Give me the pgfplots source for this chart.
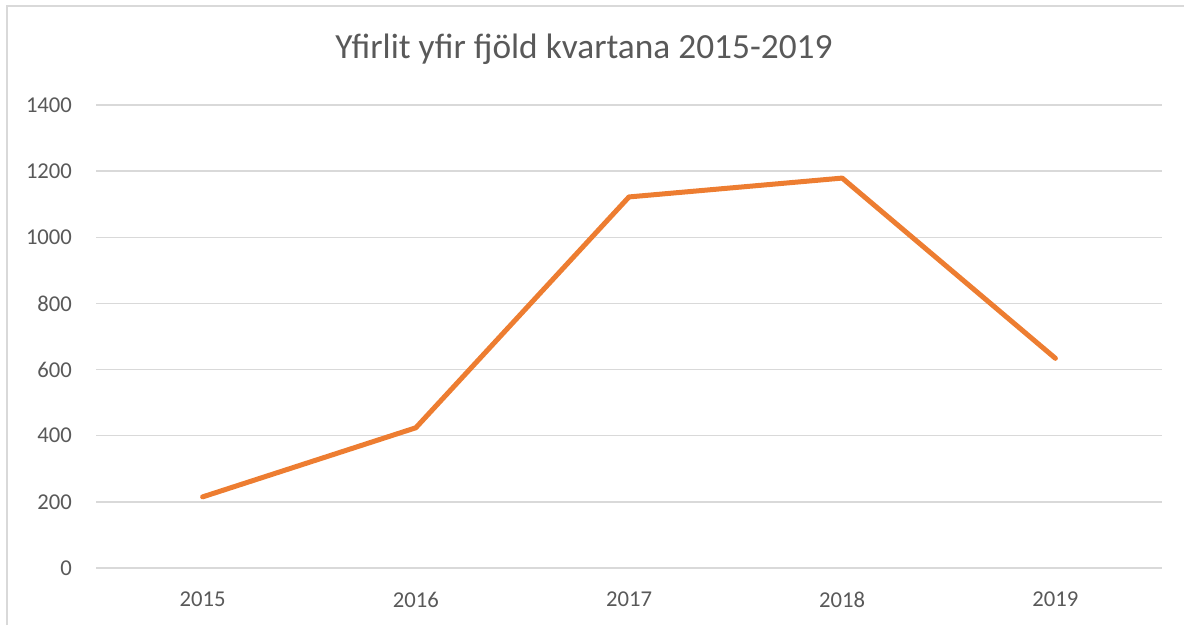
\documentclass[border=0pt]{standalone}
\usepackage{pgfplots}
\pgfplotsset{compat=1.18}
\usepackage{fontspec}
\setmainfont{Carlito}
\definecolor{txt}{HTML}{595959}
\definecolor{grd}{HTML}{D9D9D9}
\definecolor{ser}{HTML}{ED7D31}
\begin{document}
\begin{tikzpicture}[x=0.75pt,y=0.75pt]
\useasboundingbox (0,0) rectangle (1184,625);
\draw[grd,line width=1.2pt] (7,0) -- (7,619) -- (1184,619);
\node[txt,font=\fontsize{26.5}{30}\selectfont] at (584,576) {Yfirlit yfir fjöld kvartana 2015-2019};
\begin{axis}[
  at={(72pt,42.75pt)}, anchor=south west,
  scale only axis, width=799.5pt, height=347.25pt,
  xmin=2014.5, xmax=2019.5, ymin=0, ymax=1400,
  xtick={2015,2016,2017,2018,2019},
  xticklabels={2015,2016,2017,2018,2019},
  ytick={0,200,...,1400},
  axis line style={draw=none},
  major tick style={draw=none},
  ymajorgrids, grid style={grd,line width=1pt},
  tick label style={txt,font=\fontsize{17}{20}\selectfont},
  /pgf/number format/assume math mode=true,
  /pgf/number format/set thousands separator={},
  yticklabel style={xshift=-14.5pt},
  xticklabel style={yshift=-14.5pt},
  clip=false,
]
\addplot[ser,line width=3.75pt,line cap=round,line join=round] coordinates {
(2015,215) (2016,424) (2017,1122) (2018,1179) (2019,634)};
\end{axis}
\end{tikzpicture}
\end{document}
